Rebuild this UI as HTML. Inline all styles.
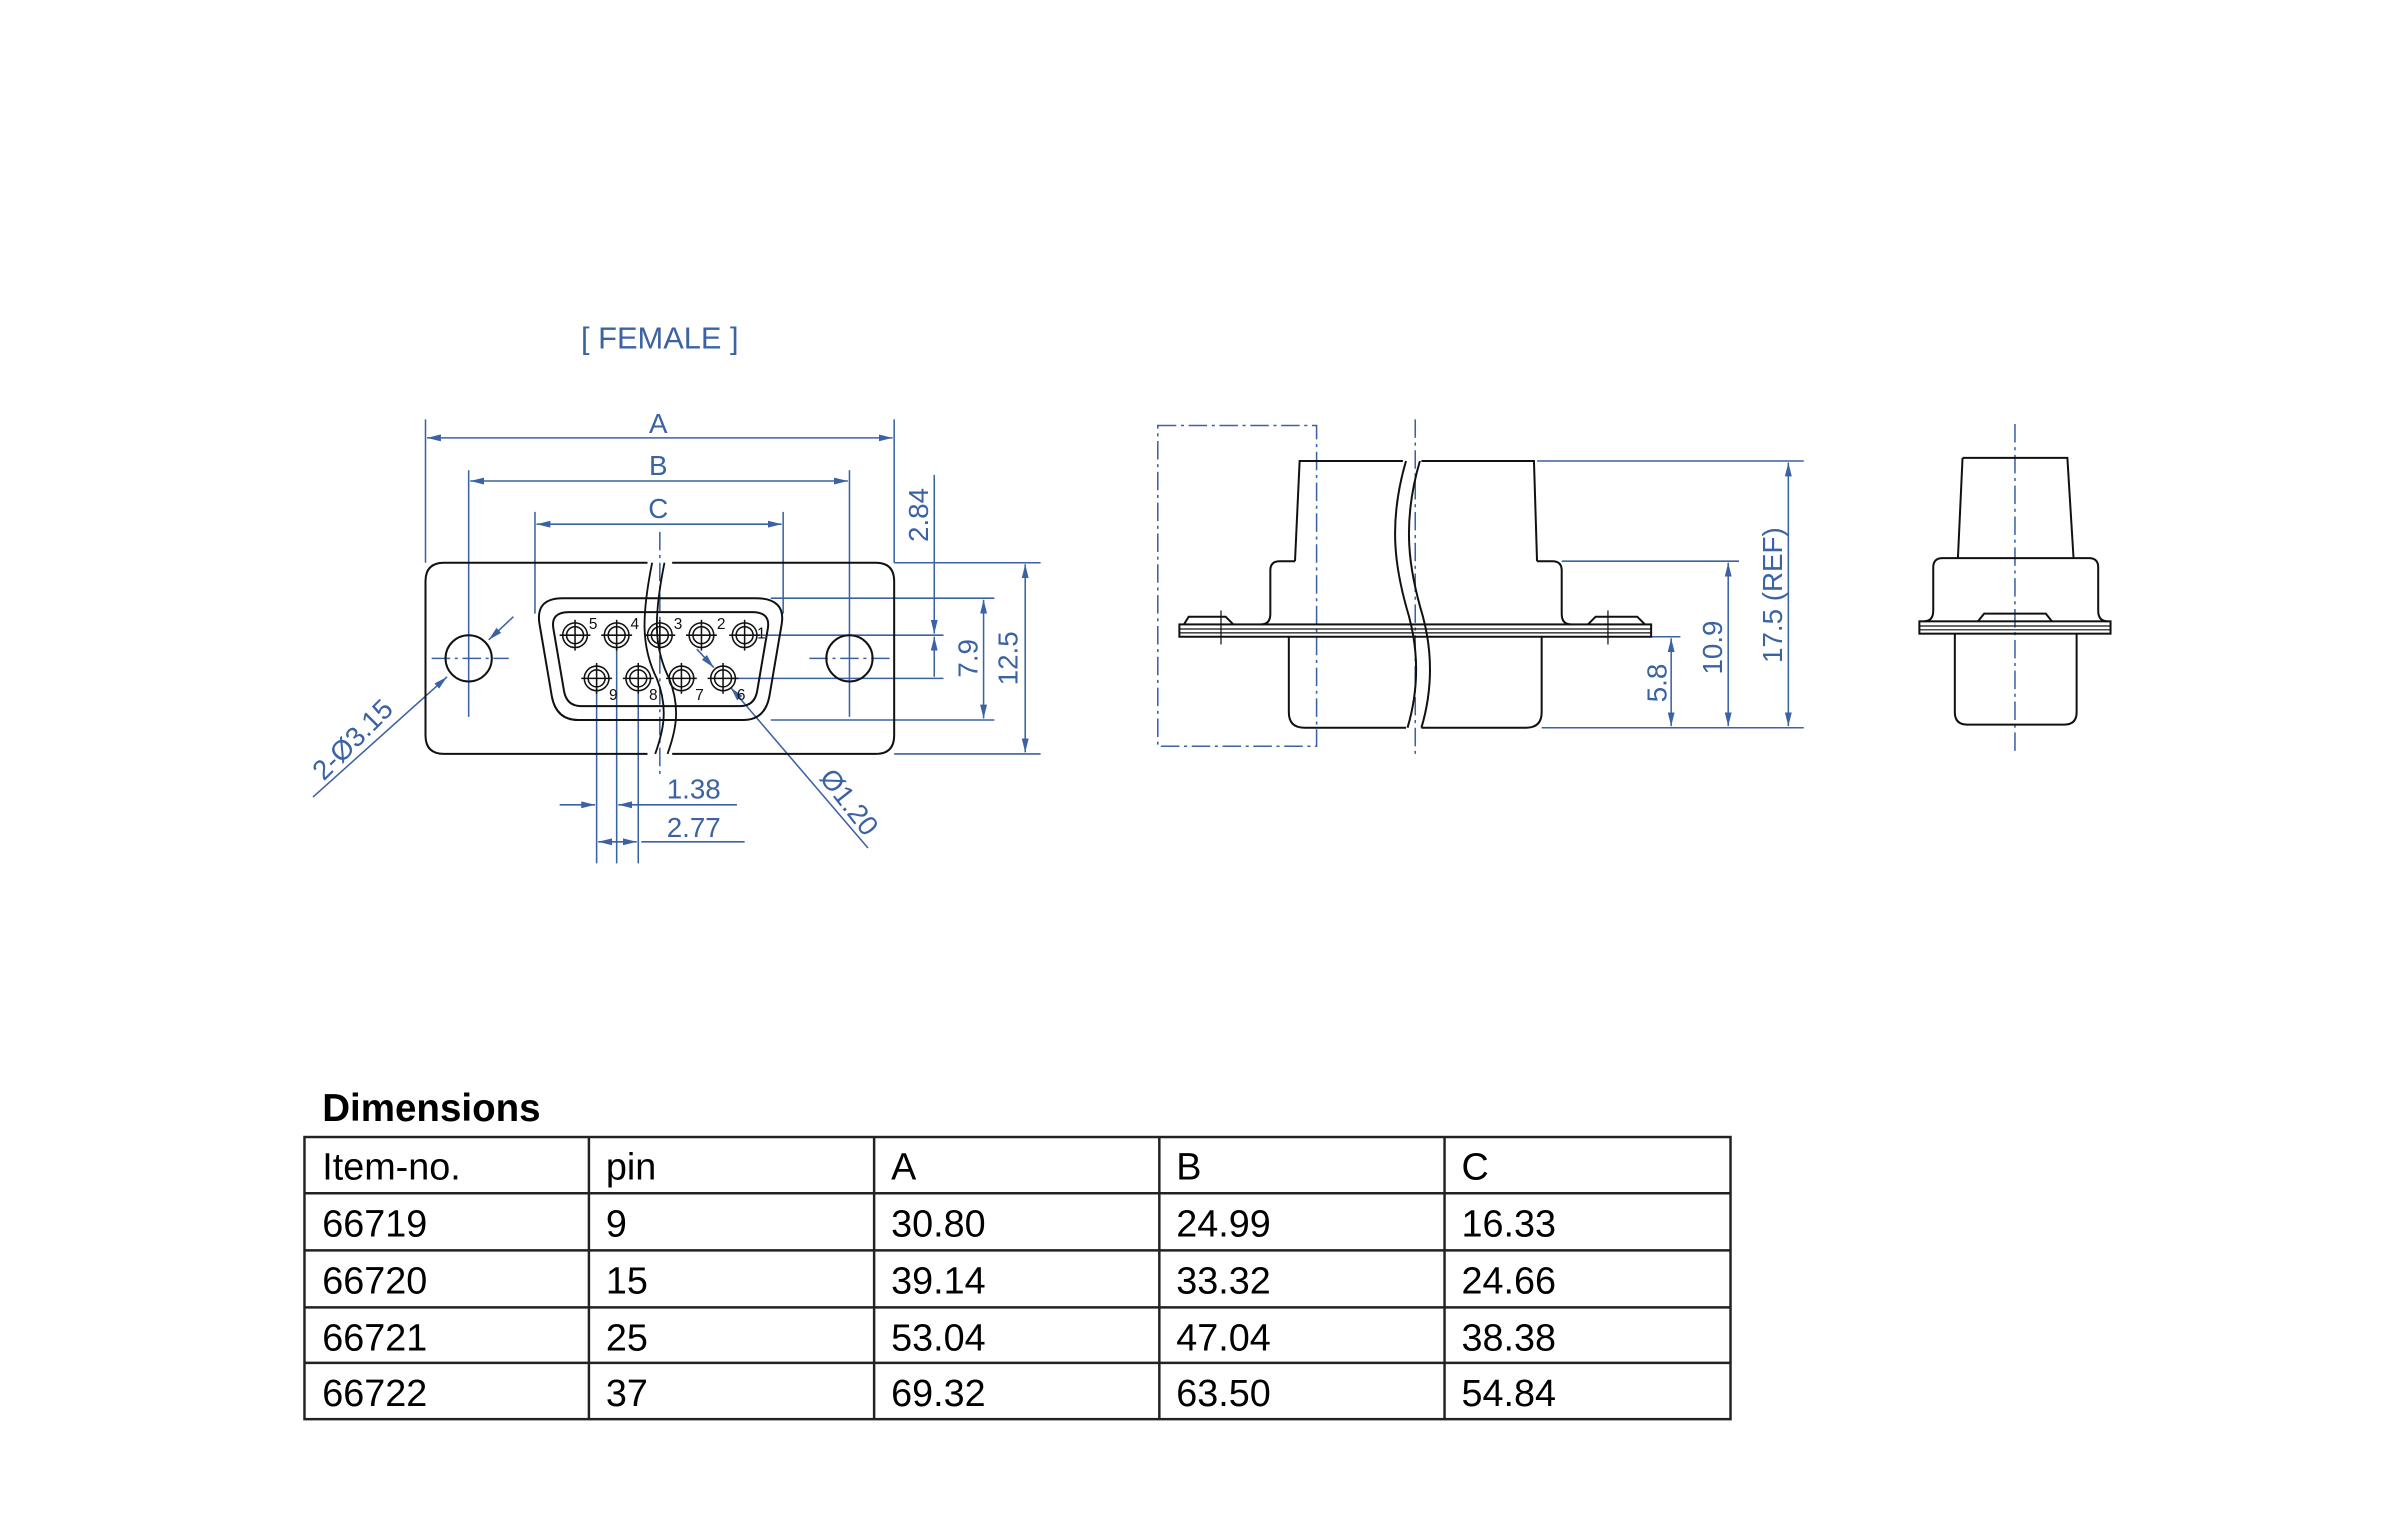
<!DOCTYPE html>
<html><head><meta charset="utf-8"><style>html,body{margin:0;padding:0;background:#fff}svg{display:block}</style></head>
<body>
<svg width="2405" height="1514" viewBox="0 0 1560 982" xmlns="http://www.w3.org/2000/svg" font-family="Liberation Sans, sans-serif">
<defs>
<marker id="ar" viewBox="0 0 10 10" refX="10" refY="5" markerWidth="9" markerHeight="9" orient="auto-start-reverse"><path d="M0,2.5 L10,5 L0,7.5 z" fill="#3b62a3"/></marker>
<g id="p"><circle r="8"/><circle r="5.5"/><line x1="-10" y1="0" x2="10" y2="0"/><line x1="0" y1="-10" x2="0" y2="10"/></g>
</defs>
<rect width="1560" height="982" fill="#fff"/>
<g fill="#3b62a3" font-size="18">
<text x="428" y="226" text-anchor="middle" font-size="20">[ FEMALE ]</text>
<text x="427" y="281" text-anchor="middle">A</text>
<text x="427" y="308" text-anchor="middle">B</text>
<text x="427" y="336" text-anchor="middle">C</text>
<text transform="translate(602,334) rotate(-90)" text-anchor="middle">2.84</text>
<text transform="translate(634,427) rotate(-90)" text-anchor="middle">7.9</text>
<text transform="translate(660,427) rotate(-90)" text-anchor="middle">12.5</text>
<text x="450" y="518" text-anchor="middle">1.38</text>
<text x="450" y="543" text-anchor="middle">2.77</text>
<text transform="translate(233,484) rotate(-45)" text-anchor="middle">2-Ø3.15</text>
<text transform="translate(546,524) rotate(52)" text-anchor="middle">Ø1.20</text>
<text transform="translate(1081,443) rotate(-90)" text-anchor="middle">5.8</text>
<text transform="translate(1117,420) rotate(-90)" text-anchor="middle">10.9</text>
<text transform="translate(1156,386) rotate(-90)" text-anchor="middle">17.5 (REF)</text>
</g>
<g stroke="#3b62a3" stroke-width="1" fill="none">
<line x1="276" y1="272" x2="276" y2="365"/><line x1="580" y1="272" x2="580" y2="365"/>
<line x1="277" y1="284" x2="579" y2="284" marker-start="url(#ar)" marker-end="url(#ar)"/>
<line x1="304" y1="305" x2="304" y2="465"/><line x1="551" y1="305" x2="551" y2="465"/>
<line x1="305" y1="312" x2="550" y2="312" marker-start="url(#ar)" marker-end="url(#ar)"/>
<line x1="347" y1="332" x2="347" y2="398"/><line x1="508" y1="332" x2="508" y2="398"/>
<line x1="348" y1="340" x2="507" y2="340" marker-start="url(#ar)" marker-end="url(#ar)"/>
<line x1="428" y1="345" x2="428" y2="505" stroke-dasharray="12,3,2,3"/>
<line x1="280" y1="427" x2="330" y2="427" stroke-dasharray="12,3,2,3"/>
<line x1="525" y1="427" x2="580" y2="427" stroke-dasharray="12,3,2,3"/>
<line x1="580" y1="365" x2="675" y2="365"/><line x1="580" y1="489" x2="675" y2="489"/>
<line x1="500" y1="388" x2="645" y2="388"/><line x1="500" y1="467" x2="645" y2="467"/>
<line x1="490" y1="412" x2="612" y2="412"/><line x1="475" y1="440" x2="612" y2="440"/>
<line x1="606" y1="308" x2="606" y2="411" marker-end="url(#ar)"/>
<line x1="606" y1="413" x2="606" y2="439" marker-start="url(#ar)"/>
<line x1="638" y1="389" x2="638" y2="466" marker-start="url(#ar)" marker-end="url(#ar)"/>
<line x1="665" y1="366" x2="665" y2="488" marker-start="url(#ar)" marker-end="url(#ar)"/>
<line x1="387" y1="445" x2="387" y2="560"/><line x1="400" y1="418" x2="400" y2="560"/><line x1="414" y1="445" x2="414" y2="560"/>
<line x1="363" y1="522" x2="386" y2="522" marker-end="url(#ar)"/>
<line x1="478" y1="522" x2="401" y2="522" marker-end="url(#ar)"/>
<line x1="388" y1="546" x2="413" y2="546" marker-start="url(#ar)" marker-end="url(#ar)"/>
<line x1="416" y1="546" x2="483" y2="546"/>
<line x1="203" y1="517" x2="290" y2="439" marker-end="url(#ar)"/>
<line x1="333" y1="400" x2="317" y2="415" marker-end="url(#ar)"/>
<line x1="563" y1="550" x2="474" y2="446" marker-end="url(#ar)"/>
<line x1="452" y1="421" x2="463" y2="433" marker-end="url(#ar)"/>
</g>
<g stroke="#111" stroke-width="1.3" fill="none">
<path d="M288,365 H420 M436,365 H568 Q580,365 580,377 V477 Q580,489 568,489 H436 M420,489 H288 Q276,489 276,477 V377 Q276,365 288,365"/>
<circle cx="304" cy="427" r="15"/><circle cx="551" cy="427" r="15"/>
<path d="M365,388 H490 Q510,388 507,405 L499,452 Q496,467 482,467 H375 Q361,467 358,452 L350,405 Q347,388 365,388 Z"/>
<path d="M369,397 H488 Q500,397 498,408 L491,449 Q489,458 480,458 H377 Q368,458 366,449 L359,408 Q357,397 369,397 Z"/>
<path d="M423,365 C416,400 416,420 426,440 C434,460 430,475 425,489" stroke-width="1.2"/>
<path d="M431,365 C424,400 424,420 434,440 C442,460 438,475 433,489" stroke-width="1.2"/>
</g>
<g stroke="#111" stroke-width="1" fill="none">
<use href="#p" x="373" y="412"/><use href="#p" x="400" y="412"/><use href="#p" x="428" y="412"/><use href="#p" x="455" y="412"/><use href="#p" x="483" y="412"/>
<use href="#p" x="387" y="440"/><use href="#p" x="414" y="440"/><use href="#p" x="442" y="440"/><use href="#p" x="469" y="440"/>
</g>
<g fill="#111" font-size="10">
<text x="382" y="408">5</text><text x="409" y="408">4</text><text x="437" y="408">3</text><text x="465" y="408">2</text><text x="491" y="414">1</text>
<text x="395" y="454">9</text><text x="421" y="454">8</text><text x="451" y="454">7</text><text x="478" y="454">6</text>
</g>
<g stroke="#3b62a3" stroke-width="1" fill="none">
<rect x="751" y="276" width="103" height="208" stroke-dasharray="12,3,2,3"/>
<line x1="918" y1="272" x2="918" y2="490" stroke-dasharray="12,3,2,3"/>
<line x1="997" y1="299" x2="1170" y2="299"/><line x1="1013" y1="364" x2="1128" y2="364"/>
<line x1="1000" y1="472" x2="1170" y2="472"/><line x1="1071" y1="413" x2="1090" y2="413"/>
<line x1="1160" y1="300" x2="1160" y2="471" marker-start="url(#ar)" marker-end="url(#ar)"/>
<line x1="1121" y1="365" x2="1121" y2="471" marker-start="url(#ar)" marker-end="url(#ar)"/>
<line x1="1084" y1="414" x2="1084" y2="471" marker-start="url(#ar)" marker-end="url(#ar)"/>
<line x1="1307" y1="275" x2="1307" y2="490" stroke-dasharray="12,3,2,3"/>
</g>
<g stroke="#111" stroke-width="1.3" fill="none">
<path d="M910,299 H843 L840,364 M922,299 H995 L997,364"/>
<path d="M840,364 H830 Q824,364 824,370 V398 Q824,405 818,405 M997,364 H1007 Q1013,364 1013,370 V398 Q1013,405 1019,405"/>
<rect x="765" y="405" width="306" height="8"/>
<line x1="765" y1="408" x2="1071" y2="408" stroke-width="0.8"/><line x1="765" y1="410.5" x2="1071" y2="410.5" stroke-width="0.8"/>
<path d="M768,405 L771,400 H795 L800,405 M1030,405 L1035,400 H1062 L1067,405"/>
<path d="M836,413 V462 Q836,472 846,472 H912 M922,472 H990 Q1000,472 1000,462 V413"/>
<path d="M912,299 C900,340 905,370 914,400 C922,430 918,455 913,472" />
<path d="M921,299 C909,340 914,370 923,400 C931,430 927,455 922,472" />
<line x1="792" y1="396" x2="792" y2="418" stroke-width="0.8"/><line x1="1043" y1="396" x2="1043" y2="418" stroke-width="0.8"/>
</g>
<g stroke="#111" stroke-width="1.3" fill="none">
<path d="M1273,297 H1341 L1345,362 M1273,297 L1270,362"/>
<path d="M1260,362 H1355 Q1361,362 1361,368 V396 Q1361,403 1367,403 M1260,362 Q1254,362 1254,368 V396 Q1254,403 1248,403"/>
<rect x="1245" y="403" width="124" height="8"/>
<line x1="1245" y1="406" x2="1369" y2="406" stroke-width="0.8"/><line x1="1245" y1="408.5" x2="1369" y2="408.5" stroke-width="0.8"/>
<path d="M1283,403 L1287,398 H1327 L1331,403"/>
<path d="M1268,411 V462 Q1268,470 1276,470 H1339 Q1347,470 1347,462 V411"/>
</g>
<text x="209" y="727" font-size="25" font-weight="bold" fill="#000">Dimensions</text>
<g stroke="#222" stroke-width="1.6" fill="none">
<rect x="197.5" y="737.5" width="925" height="183"/>
<line x1="197" y1="774" x2="1122" y2="774"/><line x1="197" y1="811" x2="1122" y2="811"/><line x1="197" y1="848" x2="1122" y2="848"/><line x1="197" y1="884" x2="1122" y2="884"/>
<line x1="382" y1="737" x2="382" y2="920"/><line x1="567" y1="737" x2="567" y2="920"/><line x1="752" y1="737" x2="752" y2="920"/><line x1="937" y1="737" x2="937" y2="920"/>
</g>
<g font-size="24.5" fill="#000">
<text x="209" y="765">Item-no.</text><text x="393" y="765">pin</text><text x="578" y="765">A</text><text x="763" y="765">B</text><text x="948" y="765">C</text>
<text x="209" y="802">66719</text><text x="393" y="802">9</text><text x="578" y="802">30.80</text><text x="763" y="802">24.99</text><text x="948" y="802">16.33</text>
<text x="209" y="839">66720</text><text x="393" y="839">15</text><text x="578" y="839">39.14</text><text x="763" y="839">33.32</text><text x="948" y="839">24.66</text>
<text x="209" y="876">66721</text><text x="393" y="876">25</text><text x="578" y="876">53.04</text><text x="763" y="876">47.04</text><text x="948" y="876">38.38</text>
<text x="209" y="912">66722</text><text x="393" y="912">37</text><text x="578" y="912">69.32</text><text x="763" y="912">63.50</text><text x="948" y="912">54.84</text>
</g>
</svg>
</body></html>
